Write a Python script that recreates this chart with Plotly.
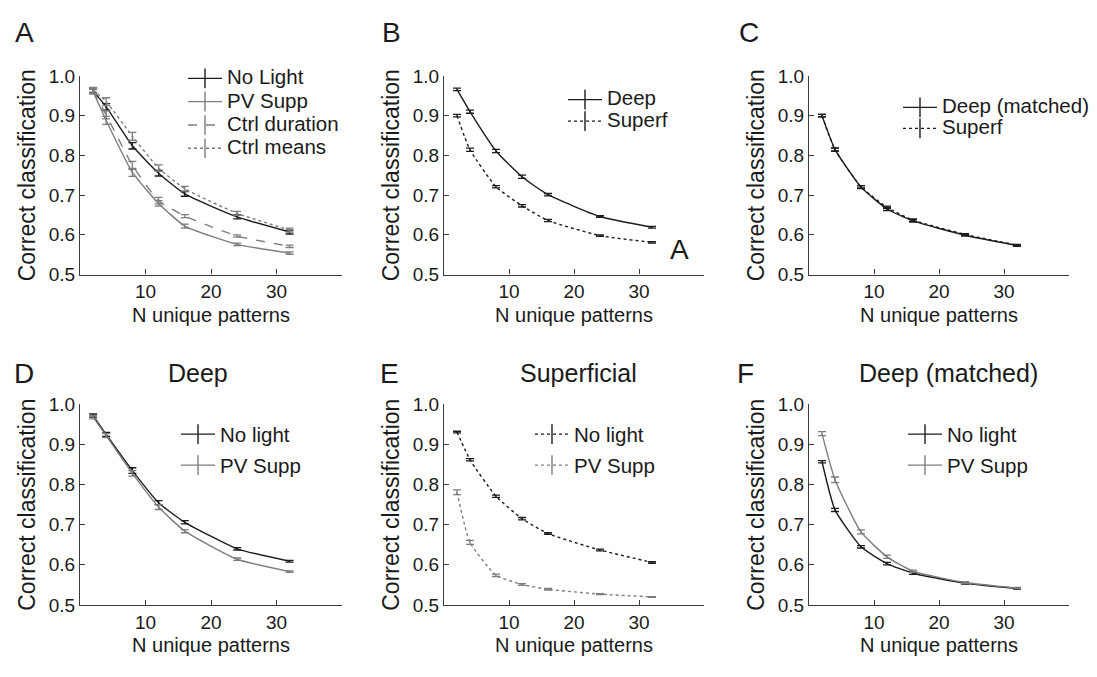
import plotly.graph_objects as go

W, H = 1097, 677
FONT = "Liberation Sans, Arial, sans-serif"
DARK = "#1c1c1c"
GRAY = "#7d7d7d"
AXC = "#3c3c3c"
TXT = "#1a1a1a"

# ---------------- data ----------------
n_patterns = [2, 4, 8, 12, 16, 24, 32]
x_tick_vals = [10, 20, 30]
y_tick_vals = [0.5, 0.6, 0.7, 0.8, 0.9, 1.0]
x_title = "N unique patterns"
y_title = "Correct classification"

# Panel A
a_no_light = [0.963, 0.922, 0.824, 0.755, 0.703, 0.645, 0.607]
a_no_light_err = [0.006, 0.008, 0.008, 0.007, 0.006, 0.005, 0.005]
a_pv_supp = [0.960, 0.888, 0.757, 0.679, 0.622, 0.576, 0.554]
a_pv_supp_err = [0.006, 0.010, 0.010, 0.007, 0.005, 0.003, 0.003]
a_ctrl_duration = [0.962, 0.902, 0.775, 0.686, 0.647, 0.597, 0.571]
a_ctrl_duration_err = [0.006, 0.010, 0.010, 0.008, 0.004, 0.003, 0.003]
a_ctrl_means = [0.965, 0.935, 0.848, 0.768, 0.716, 0.654, 0.612]
a_ctrl_means_err = [0.006, 0.010, 0.010, 0.008, 0.006, 0.005, 0.005]

# Panel B
b_deep = [0.966, 0.910, 0.811, 0.746, 0.701, 0.646, 0.619]
b_deep_err = [0.003, 0.004, 0.004, 0.004, 0.003, 0.002, 0.002]
b_superf = [0.900, 0.814, 0.721, 0.673, 0.636, 0.598, 0.581]
b_superf_err = [0.003, 0.004, 0.003, 0.003, 0.003, 0.002, 0.002]

# Panel C
c_deep_matched = [0.900, 0.815, 0.720, 0.665, 0.635, 0.599, 0.573]
c_deep_matched_err = [0.003, 0.004, 0.004, 0.004, 0.003, 0.002, 0.002]
c_superf = [0.900, 0.814, 0.721, 0.669, 0.637, 0.601, 0.574]
c_superf_err = [0.003, 0.004, 0.003, 0.003, 0.003, 0.002, 0.002]

# Panel D
d_no_light = [0.972, 0.925, 0.835, 0.755, 0.706, 0.640, 0.609]
d_no_light_err = [0.004, 0.005, 0.007, 0.005, 0.004, 0.003, 0.002]
d_pv_supp = [0.968, 0.922, 0.828, 0.744, 0.684, 0.614, 0.583]
d_pv_supp_err = [0.004, 0.005, 0.007, 0.006, 0.004, 0.003, 0.002]

# Panel E
e_no_light = [0.931, 0.862, 0.771, 0.715, 0.678, 0.637, 0.606]
e_no_light_err = [0.002, 0.003, 0.003, 0.003, 0.002, 0.002, 0.002]
e_pv_supp = [0.781, 0.656, 0.574, 0.551, 0.539, 0.527, 0.520]
e_pv_supp_err = [0.006, 0.005, 0.003, 0.002, 0.002, 0.001, 0.001]

# Panel F
f_no_light = [0.857, 0.737, 0.645, 0.603, 0.579, 0.554, 0.541]
f_no_light_err = [0.003, 0.004, 0.003, 0.003, 0.003, 0.002, 0.002]
f_pv_supp = [0.927, 0.812, 0.682, 0.620, 0.584, 0.556, 0.542]
f_pv_supp_err = [0.005, 0.007, 0.005, 0.004, 0.003, 0.002, 0.002]

panel_letters = ["A", "B", "C", "D", "E", "F"]
panel_titles = ["", "", "", "Deep", "Superficial", "Deep (matched)"]

# series per panel: (label, values, errors, colour, dash)
panels = [
    [("No Light", a_no_light, a_no_light_err, DARK, "solid"),
     ("PV Supp", a_pv_supp, a_pv_supp_err, GRAY, "solid"),
     ("Ctrl duration", a_ctrl_duration, a_ctrl_duration_err, GRAY, "dash"),
     ("Ctrl means", a_ctrl_means, a_ctrl_means_err, GRAY, "dot")],
    [("Deep", b_deep, b_deep_err, DARK, "solid"),
     ("Superf", b_superf, b_superf_err, DARK, "dot")],
    [("Deep (matched)", c_deep_matched, c_deep_matched_err, DARK, "solid"),
     ("Superf", c_superf, c_superf_err, DARK, "dot")],
    [("No light", d_no_light, d_no_light_err, DARK, "solid"),
     ("PV Supp", d_pv_supp, d_pv_supp_err, GRAY, "solid")],
    [("No light", e_no_light, e_no_light_err, DARK, "dot"),
     ("PV Supp", e_pv_supp, e_pv_supp_err, GRAY, "dot")],
    [("No light", f_no_light, f_no_light_err, DARK, "solid"),
     ("PV Supp", f_pv_supp, f_pv_supp_err, GRAY, "solid")],
]

# ---------------- layout geometry (pixels) ----------------
cols_px = [(80, 342), (444, 704), (809, 1069)]
rows_px = [(68, 273), (407, 614)]
# legend: (item origin x, first item centre y, item height)
legend_px = [(183, 70, 23.3), (563, 92, 21.5), (898, 100, 21),
             (176, 437, 31), (530, 437, 31), (903, 437, 31)]
letter_px = [(13, 23), (380, 23), (737, 23), (12, 375), (378, 375), (735, 375)]
title_cx = [0, 0, 0, 198, 578, 948]
LEG_TEXT = 20.5

fig = go.Figure()
layout = dict(
    width=W, height=H, margin=dict(l=0, r=0, t=0, b=0),
    paper_bgcolor="white", plot_bgcolor="white",
    font=dict(family=FONT, color=TXT),
    annotations=[],
)

for i, series in enumerate(panels):
    k = i + 1
    sfx = "" if k == 1 else str(k)
    r, c = divmod(i, 3)
    x0, x1 = cols_px[c]
    y0, y1 = rows_px[r]
    axis_common = dict(
        showline=True, linecolor=AXC, linewidth=1.2, mirror=False,
        showgrid=False, zeroline=False, ticks="inside", ticklen=5,
        tickcolor=AXC, tickwidth=1.2,
        tickfont=dict(family=FONT, size=19, color=TXT),
    )
    layout["xaxis" + sfx] = dict(
        axis_common, domain=[x0 / W, x1 / W], range=[0, 40],
        tickvals=x_tick_vals, anchor="y" + sfx,
        title=dict(text=x_title, font=dict(family=FONT, size=20, color=TXT), standoff=6),
    )
    layout["yaxis" + sfx] = dict(
        axis_common, domain=[1 - y1 / H, 1 - y0 / H], range=[0.5, 1.0],
        tickvals=y_tick_vals, tickformat=".1f", anchor="x" + sfx,
        title=dict(text=y_title, font=dict(family=FONT, size=23, color=TXT), standoff=6),
    )
    lx, lcy, lh = legend_px[i]
    leg_font = (lh - 3) / 1.3
    top = lcy - 5 - lh / 2
    layout["legend" + sfx] = dict(
        x=lx / W, y=1 - top / H, xanchor="left", yanchor="top",
        bgcolor="rgba(0,0,0,0)", borderwidth=0,
        itemwidth=34, tracegroupgap=0,
        font=dict(family=FONT, size=leg_font, color=TXT),
    )
    for j, (label, vals, errs, col, dash) in enumerate(series):
        grp = f"p{k}s{j}"
        # data curve with error bars
        fig.add_trace(go.Scatter(
            x=n_patterns, y=vals, mode="lines",
            line=dict(color=col, width=1.4, dash=dash, shape="spline", smoothing=0.5),
            error_y=dict(type="data", array=errs, visible=True, color=col,
                         thickness=1.3, width=4),
            xaxis="x" + sfx, yaxis="y" + sfx, legendgroup=grp,
            showlegend=False,
        ))
        # legend entry (line with an error-bar glyph), no data points
        fig.add_trace(go.Scatter(
            x=[None], y=[None], mode="lines+markers",
            name=f"<span style='font-size:{LEG_TEXT}px'>{label}</span>",
            line=dict(color=col, width=1.4, dash=dash),
            marker=dict(symbol="line-ns-open", size=14, color=col,
                        line=dict(color=col, width=1.4)),
            xaxis="x" + sfx, yaxis="y" + sfx, legend="legend" + sfx,
            legendgroup=grp, showlegend=True,
        ))
    lxp, lyp = letter_px[i]
    layout["annotations"].append(dict(
        text=panel_letters[i], x=lxp / W, y=1 - lyp / H, xref="paper", yref="paper",
        xanchor="left", yanchor="middle", showarrow=False,
        font=dict(family=FONT, size=28, color=TXT)))
    if panel_titles[i]:
        layout["annotations"].append(dict(
            text=panel_titles[i], x=title_cx[i] / W, y=1 - lyp / H,
            xref="paper", yref="paper", xanchor="center", yanchor="middle",
            showarrow=False, font=dict(family=FONT, size=25, color=TXT)))

# stray "A" label inside panel B
layout["annotations"].append(dict(
    text="A", x=36.2, y=0.563, xref="x2", yref="y2", xanchor="center",
    yanchor="middle", showarrow=False, font=dict(family=FONT, size=28, color=TXT)))

fig.update_layout(**layout)
fig.write_html("out.html")
